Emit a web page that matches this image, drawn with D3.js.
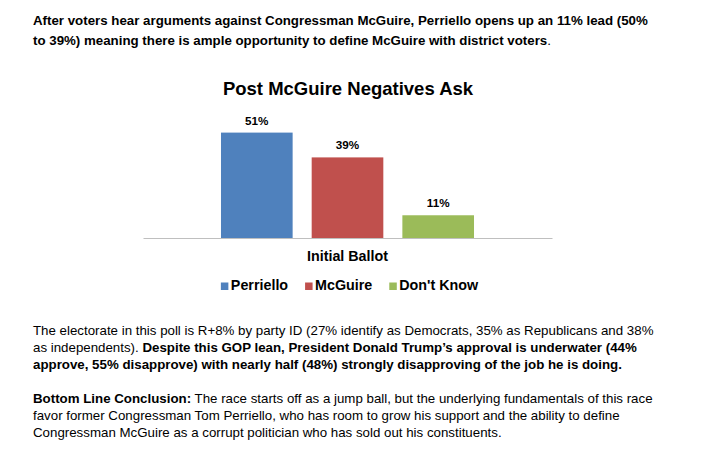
<!DOCTYPE html>
<html>
<meta charset="UTF-8">

<head>
  <script src="https://cdn.jsdelivr.net/npm/d3@7"></script>
  <style>
    body { margin: 0; background: #fff; }
    text { font-family: Arial, "Liberation Sans", sans-serif; fill: #000; }
  </style>
</head>

<body>
  <svg id="page" width="727" height="459"></svg>

  <script type="text/javascript">
    // chart data
    const groups = ["Initial Ballot"]
    const series = ["Perriello", "McGuire", "Don't Know"]
    const values = [51, 39, 11]
    const labels = ["51%", "39%", "11%"]
    const colors = ["#4f81bd", "#c0504d", "#9bbb59"]

    // surrounding memo text, [text, bold] runs per line
    const headerLines = [
      [["After voters hear arguments against Congressman McGuire, Perriello opens up an 11% lead (50%", true]],
      [["to 39%) meaning there is ample opportunity to define McGuire with district voters", true], [".", false]]
    ]
    const paraLines = [
      [["The electorate in this poll is R+8% by party ID (27% identify as Democrats, 35% as Republicans and 38%", false]],
      [["as independents). ", false], ["Despite this GOP lean, President Donald Trump\u2019s approval is underwater (44%", true]],
      [["approve, 55% disapprove) with nearly half (48%) strongly disapproving of the job he is doing.", true]],
      [["Bottom Line Conclusion:", true], [" The race starts off as a jump ball, but the underlying fundamentals of this race", false]],
      [["favor former Congressman Tom Perriello, who has room to grow his support and the ability to define", false]],
      [["Congressman McGuire as a corrupt politician who has sold out his constituents.", false]]
    ]

    const svg = d3.select("#page")

    function writeLines(lines, x, ys) {
      lines.forEach((runs, i) => {
        const t = svg.append("text")
          .attr("x", x)
          .attr("y", ys[i])
          .style("font-size", "13.3px")
        runs.forEach(r => {
          t.append("tspan")
            .style("font-weight", r[1] ? "bold" : "normal")
            .text(r[0])
        })
      })
    }

    writeLines(headerLines, 33, [25, 45])
    writeLines(paraLines, 33, [335, 352, 369, 403, 420, 437])

    // chart title
    svg.append("text")
      .attr("x", 348)
      .attr("y", 95)
      .style("text-anchor", "middle")
      .style("font-weight", "bold")
      .style("font-size", "18.5px")
      .text("Post McGuire Negatives Ask")

    const x0 = d3.scaleBand()
      .domain(groups)
      .range([143, 552])

    const x1 = d3.scaleBand()
      .domain(series)
      .range([0, x0.bandwidth()])
      .paddingInner(0.21)
      .paddingOuter(0.86)

    const y = d3.scaleLinear()
      .domain([0, 60])
      .range([238, 114])

    const rows = series.map((s, i) => ({ name: s, value: values[i], label: labels[i], color: colors[i] }))

    const g = svg.append("g")
      .attr("transform", `translate(${x0(groups[0])},0)`)

    g.selectAll("rect")
      .data(rows)
      .enter()
      .append("rect")
      .attr("x", d => x1(d.name))
      .attr("y", d => y(d.value))
      .attr("width", x1.bandwidth())
      .attr("height", d => y(0) - y(d.value))
      .style("fill", d => d.color)

    g.selectAll("text.val")
      .data(rows)
      .enter()
      .append("text")
      .attr("class", "val")
      .attr("x", d => x1(d.name) + x1.bandwidth() / 2)
      .attr("y", d => y(d.value) - 8)
      .style("text-anchor", "middle")
      .style("font-weight", "bold")
      .style("font-size", "11.7px")
      .text(d => d.label)

    // category axis
    const xAxis = svg.append("g")
      .attr("transform", `translate(0,${y(0)})`)
      .call(d3.axisBottom(x0).tickSize(0).tickPadding(13))
    xAxis.select(".domain").attr("stroke", "#bfbfbf")
    xAxis.selectAll(".tick text")
      .style("font-weight", "bold")
      .style("font-size", "14.3px")
      .style("font-family", "Arial, 'Liberation Sans', sans-serif")
      .attr("fill", "#000")

    // legend
    const legend = svg.append("g")
    const items = legend.selectAll("g")
      .data(rows)
      .enter()
      .append("g")
    items.append("rect")
      .attr("width", 7.5)
      .attr("height", 7.5)
      .attr("y", -7.5)
      .style("fill", d => d.color)
    items.append("text")
      .attr("x", 10)
      .style("font-weight", "bold")
      .style("font-size", "14.3px")
      .text(d => d.name)

    let cx = 0
    items.each(function () {
      const w = this.querySelector("text").getComputedTextLength()
      d3.select(this).attr("transform", `translate(${cx},0)`)
      cx += 10 + w + 17
    })
    const total = cx - 17
    legend.attr("transform", `translate(${349.5 - total / 2},290)`)
  </script>
</body>

</html>
